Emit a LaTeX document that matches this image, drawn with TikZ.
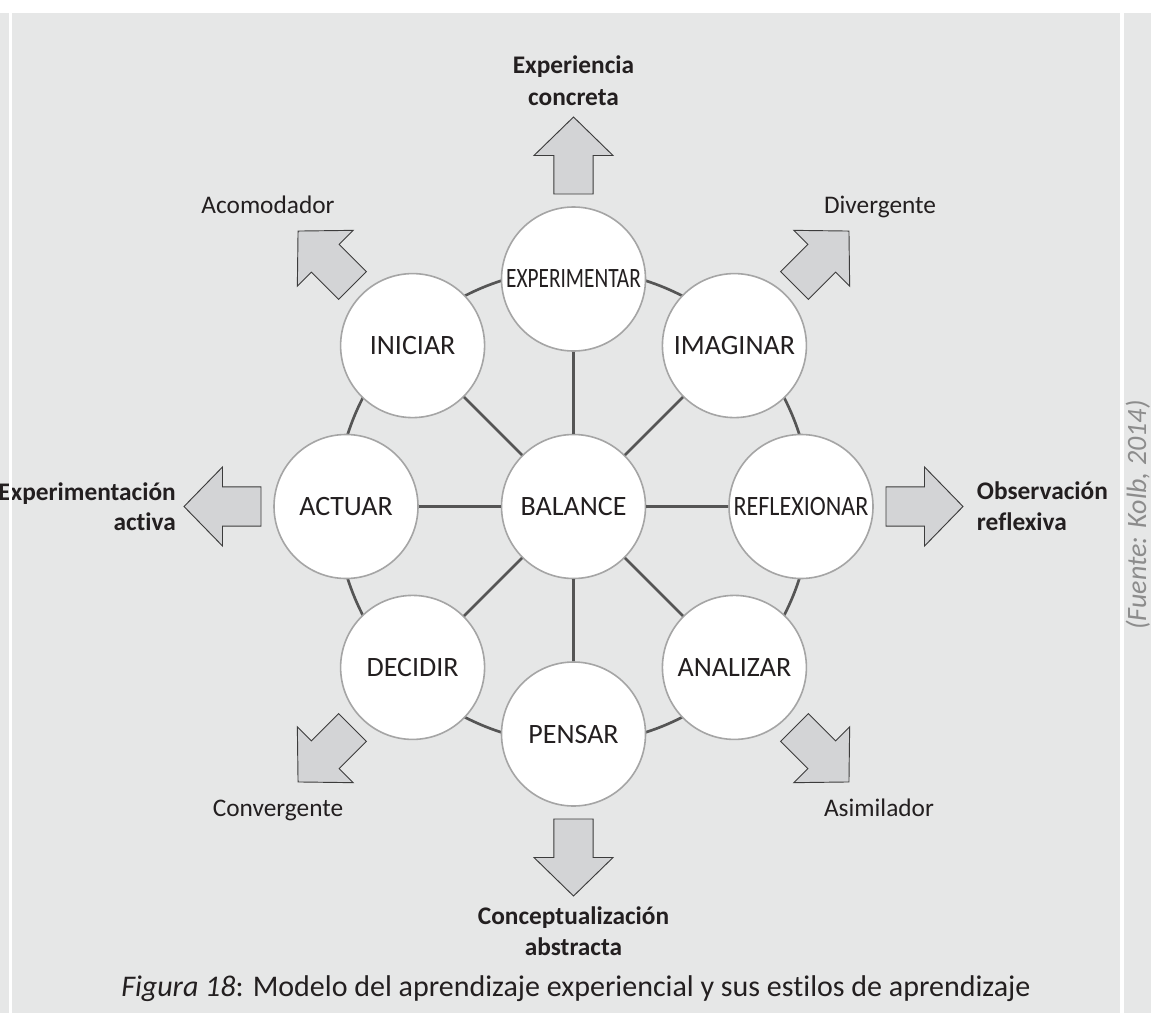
\documentclass[tikz,border=0pt]{standalone}
\usepackage{fontspec}
\setmainfont{Carlito}[Ligatures=NoCommon]
\usetikzlibrary{calc}
\definecolor{pagebg}{HTML}{E6E7E7}
\definecolor{arrowfill}{HTML}{D3D4D6}
\definecolor{arrowline}{HTML}{3C3C3C}
\definecolor{ringline}{HTML}{555555}
\definecolor{circline}{HTML}{A5A5A5}
\definecolor{ink}{HTML}{231F20}
\definecolor{sourcegrey}{HTML}{8C8C8C}
\begin{document}
\begin{tikzpicture}[x=0.75pt,y=-0.75pt,
  stage/.style={circle, draw=circline, line width=1.2pt, fill=white,
    minimum size=108pt, inner sep=0pt, text=ink, font=\fontsize{21}{25}\selectfont},
  link/.style={draw=ringline, line width=2pt},
  pole/.style={font=\bfseries\fontsize{19}{23}\selectfont, text=ink, inner sep=0pt},
  styl/.style={font=\fontsize{19}{23}\selectfont, text=ink, inner sep=0pt},
  blockarrow/.pic={\filldraw[fill=arrowfill, draw=arrowline, line width=0.7pt]
    (85,-19.65) -- (123.5,-19.65) -- (123.5,-39.5) -- (162,0) -- (123.5,39.5)
    -- (123.5,19.65) -- (85,19.65) -- cycle;}
]
% page background and frame strips
\useasboundingbox (0,0) rectangle (1151,1013);
\fill[white] (0,0) rectangle (1151,1013);
\fill[pagebg] (0,13) rectangle (1151,1013);

% outer ring of the cycle
\draw[link] (573.5,506.5) circle[radius=177.75pt];

% stages
\node[stage] (bal) at (573.5,506.5) {BALANCE};
\node[stage] (exp) at (573.5,279) {\scalebox{0.76}[1]{EXPERIMENTAR}};
\node[stage] (pen) at (573.5,734) {PENSAR};
\node[stage] (act) at (346,506.5) {ACTUAR};
\node[stage] (ref) at (801,506.5) {\scalebox{0.86}[1]{REFLEXIONAR}};
\node[stage] (ini) at (412.6,345.6) {INICIAR};
\node[stage] (ima) at (734.4,345.6) {IMAGINAR};
\node[stage] (dec) at (412.6,667.4) {DECIDIR};
\node[stage] (ana) at (734.4,667.4) {ANALIZAR};

% spokes from the centre
\foreach \s in {exp,pen,act,ref,ini,ima,dec,ana}
  \draw[link] (bal) -- (\s);

% block arrows pointing outwards
\pic[rotate=90]  at (exp) {blockarrow};
\pic[rotate=270] at (pen) {blockarrow};
\pic[rotate=180] at (act) {blockarrow};
\pic[rotate=0]   at (ref) {blockarrow};
\pic[rotate=135] at (ini) {blockarrow};
\pic[rotate=45]  at (ima) {blockarrow};
\pic[rotate=225] at (dec) {blockarrow};
\pic[rotate=315] at (ana) {blockarrow};

% axis labels
\node[pole, anchor=base] (ec1) at (573.5,74) {Experiencia};
\node[pole, anchor=base] (ec2) at (573.5,106) {concreta};
\node[pole, anchor=base] (ca1) at (573.5,924) {Conceptualización};
\node[pole, anchor=base] (ca2) at (573.5,955) {abstracta};
\node[pole, anchor=base east] (ea1) at (176,500) {Experimentación};
\node[pole, anchor=base east] (ea2) at (176,530.7) {activa};
\node[pole, anchor=base west] (or1) at (976.7,499.3) {Observación};
\node[pole, anchor=base west] (or2) at (976.7,530) {reflexiva};

% learning styles
\node[styl, anchor=base] (sac) at (268,213) {Acomodador};
\node[styl, anchor=base] (sdi) at (880,213) {Divergente};
\node[styl, anchor=base] (sco) at (278,816) {Convergente};
\node[styl, anchor=base] (sas) at (879,816) {Asimilador};

% caption and source
\node[anchor=base west, inner sep=0pt, text=ink, font=\fontsize{22.5}{26}\selectfont]
  (cap) at (121,996) {\textit{Figura 18}: Modelo del aprendizaje experiencial y sus estilos de aprendizaje};
\node[rotate=90, anchor=base, inner sep=0pt, text=sourcegrey, font=\itshape\fontsize{21}{25}\selectfont]
  (src) at (1146,515) {(Fuente: Kolb, 2014)};

% white frame lines
\fill[white] (9,13) rectangle (12,1013);
\fill[white] (1120,13) rectangle (1124,1013);
\end{tikzpicture}
\end{document}
